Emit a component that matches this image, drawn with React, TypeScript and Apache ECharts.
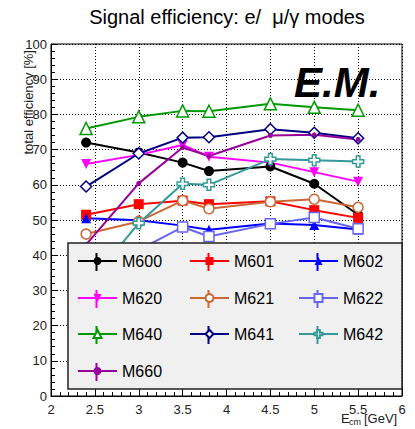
import React, { useEffect, useRef } from "react";
import * as echarts from "echarts";

// ---- data ----
const ENERGIES = [2.4, 3.0, 3.5, 3.8, 4.5, 5.0, 5.5];
const M600 = [72.0, 69.2, 66.3, 63.9, 65.2, 60.3, 51.5];
const M601 = [51.5, 54.5, 55.5, 54.5, 55.3, 52.8, 50.6];
const M602 = [50.5, 49.9, 48.4, 47.2, 49.0, 48.6, 47.3];
const M620 = [65.9, 68.5, 71.3, 68.0, 66.3, 63.6, 60.9];
const M621 = [46.0, 49.6, 55.5, 53.2, 55.2, 55.9, 53.6];
const M622 = [35.0, 41.5, 48.0, 45.3, 48.9, 50.7, 47.5];
const M640 = [76.0, 79.3, 81.0, 80.9, 83.0, 82.0, 81.2];
const M641 = [59.5, 68.9, 73.4, 73.5, 75.8, 74.8, 73.2];
const M642 = [31.0, 49.1, 60.3, 60.0, 67.3, 67.0, 66.6];
const M660 = [43.0, 60.4, 70.6, 68.2, 74.0, 74.2, 72.9];

const SERIES_NAMES = ["M600", "M601", "M602", "M620", "M621", "M622", "M640", "M641", "M642", "M660"];
const SERIES_VALUES = [M600, M601, M602, M620, M621, M622, M640, M641, M642, M660];

const TITLE = "Signal efficiency: e/  \u03bc/\u03b3 modes";
const Y_TITLE = "total efficiency [%]";
const TAG = "E.M.";

// ---- styles ----
const FONT = "'Liberation Sans', Arial, Helvetica, sans-serif";
const CROSS = "path://M4,0H8V4H12V8H8V12H4V8H0V4H4Z";

type Sty = { color: string; symbol: string; size: number; rotate?: number; open?: boolean };
const STYLES: Record<string, Sty> = {
  M600: { color: "#000000", symbol: "circle", size: 10 },
  M601: { color: "#ff0000", symbol: "rect", size: 10 },
  M602: { color: "#0000ff", symbol: "triangle", size: 10 },
  M620: { color: "#ff00ff", symbol: "triangle", size: 10, rotate: 180 },
  M621: { color: "#cc6633", symbol: "circle", size: 10, open: true },
  M622: { color: "#6666ee", symbol: "rect", size: 10, open: true },
  M640: { color: "#009900", symbol: "triangle", size: 12, open: true },
  M641: { color: "#000080", symbol: "diamond", size: 11, open: true },
  M642: { color: "#339999", symbol: CROSS, size: 11, open: true },
  M660: { color: "#990099", symbol: "circle", size: 5 },
};

const LEG_COLS = [77, 189, 298];
const LEG_ROWS = [262, 299, 335, 372];

export default function App() {
  const ref = useRef<HTMLDivElement>(null);

  useEffect(() => {
    if (!ref.current) return;
    const chart = echarts.init(ref.current, undefined, { renderer: "svg" });

    const series = SERIES_NAMES.map((name, i) => {
      const s = STYLES[name];
      return {
        name,
        type: "line",
        data: ENERGIES.map((x, j) => [x, SERIES_VALUES[i][j]]),
        symbol: s.symbol,
        symbolSize: s.size,
        symbolRotate: s.rotate || 0,
        symbolKeepAspect: true,
        showAllSymbol: true,
        lineStyle: { color: s.color, width: 2 },
        itemStyle: s.open
          ? { color: "#ffffff", borderColor: s.color, borderWidth: 1.5 }
          : { color: s.color, borderColor: s.color, borderWidth: 0 },
        z: 2,
      };
    });

    const legends = SERIES_NAMES.map((name, i) => ({
      data: [name],
      left: LEG_COLS[i % 3],
      top: LEG_ROWS[Math.floor(i / 3)] - 9,
      orient: "horizontal",
      padding: 0,
      itemWidth: 39,
      itemHeight: 10,
      selectedMode: false,
      textStyle: { fontSize: 16, color: "#000", fontFamily: FONT },
      z: 20,
    }));

    const errBars = SERIES_NAMES.map((name, i) => {
      const cx = LEG_COLS[i % 3] + 19.5;
      const cy = LEG_ROWS[Math.floor(i / 3)];
      return {
        type: "line",
        z: 15,
        shape: { x1: cx, y1: cy - 9, x2: cx, y2: cy + 9 },
        style: { stroke: STYLES[name].color, lineWidth: 2 },
      };
    });

    const option = {
      animation: false,
      textStyle: { fontFamily: FONT },
      grid: {
        left: 51,
        right: 13,
        top: 44,
        bottom: 33,
        show: true,
        borderColor: "#000",
        borderWidth: 1,
        backgroundColor: "transparent",
      },
      xAxis: {
        type: "value",
        min: 2,
        max: 6,
        interval: 0.5,
        axisLine: { show: true, onZero: false, lineStyle: { color: "#000", width: 1 } },
        axisTick: { show: true, inside: true, length: 8, lineStyle: { color: "#000" } },
        minorTick: { show: true, splitNumber: 5, length: 4, lineStyle: { color: "#000" } },
        splitLine: { show: true, lineStyle: { color: "#000", type: [1, 2], width: 1 } },
        axisLabel: { color: "#222", fontSize: 13, margin: 7, fontFamily: FONT },
      },
      yAxis: {
        type: "value",
        min: 0,
        max: 100,
        interval: 10,
        axisLine: { show: true, onZero: false, lineStyle: { color: "#000", width: 1 } },
        axisTick: { show: true, inside: true, length: 7, lineStyle: { color: "#000" } },
        minorTick: { show: true, splitNumber: 5, length: 4, lineStyle: { color: "#000" } },
        splitLine: { show: true, lineStyle: { color: "#000", type: [1, 2], width: 1 } },
        axisLabel: { color: "#222", fontSize: 13, margin: 4, fontFamily: FONT },
      },
      legend: legends,
      series,
      graphic: [
        {
          type: "text",
          x: 227,
          y: 17,
          z: 30,
          style: {
            text: TITLE,
            fontSize: 20,
            fontFamily: FONT,
            fill: "#000",
            textAlign: "center",
            textVerticalAlign: "middle",
          },
        },
        {
          type: "text",
          x: 294,
          y: 82,
          z: 30,
          style: {
            text: TAG,
            fontSize: 42,
            fontWeight: "bold",
            fontStyle: "italic",
            fontFamily: FONT,
            fill: "#000",
            textAlign: "left",
            textVerticalAlign: "middle",
          },
        },
        {
          type: "text",
          x: 28,
          y: 50,
          rotation: Math.PI / 2,
          z: 30,
          style: {
            text: Y_TITLE,
            fontSize: 13,
            fontFamily: FONT,
            fill: "#222",
            textAlign: "right",
            textVerticalAlign: "middle",
          },
        },
        {
          type: "text",
          x: 341,
          y: 418,
          z: 30,
          style: { text: "E", fontSize: 13, fontFamily: FONT, fill: "#222", textAlign: "left", textVerticalAlign: "middle" },
        },
        {
          type: "text",
          x: 349,
          y: 422,
          z: 30,
          style: { text: "cm", fontSize: 9, fontFamily: FONT, fill: "#222", textAlign: "left", textVerticalAlign: "middle" },
        },
        {
          type: "text",
          x: 364,
          y: 418,
          z: 30,
          style: { text: "[GeV]", fontSize: 13, fontFamily: FONT, fill: "#222", textAlign: "left", textVerticalAlign: "middle" },
        },
        {
          type: "rect",
          z: 10,
          shape: { x: 68, y: 243, width: 334, height: 146 },
          style: { fill: "#f0f0f0", stroke: "#222", lineWidth: 1.5 },
        },
        ...errBars,
      ],
    };

    chart.setOption(option as any);
    return () => chart.dispose();
  }, []);

  return (
    <div
      ref={ref}
      style={{ position: "absolute", left: 0, top: 0, width: 415, height: 429, background: "#fff" }}
    />
  );
}
